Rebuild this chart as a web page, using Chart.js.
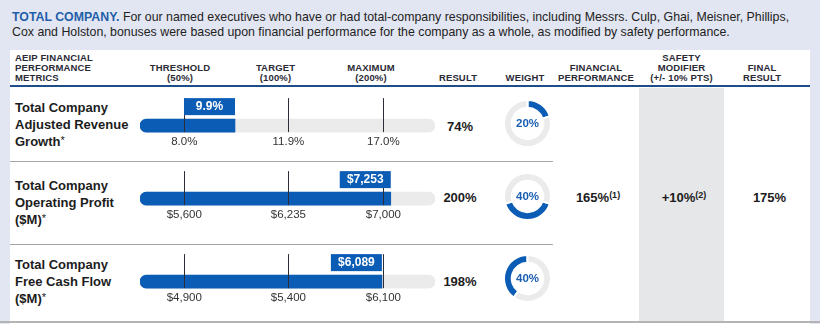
<!DOCTYPE html>
<html><head><meta charset="utf-8">
<script src="https://cdn.jsdelivr.net/npm/chart.js@4"></script>
<style>
html,body{margin:0;padding:0;}
body{width:820px;height:324px;background:#e2e6f2;position:relative;overflow:hidden;font-family:"Liberation Sans",Arial,sans-serif;color:#1e1e1e;}
.a{position:absolute;white-space:nowrap;}
.intro{left:12px;font-size:12.35px;line-height:15px;color:#222;}
.hd{font-size:9.5px;font-weight:bold;letter-spacing:0.15px;line-height:10px;color:#2a2a36;text-align:center;width:120px;}
.lbl{left:15px;font-size:13px;font-weight:bold;line-height:17px;color:#1c1c1c;}
.val{font-size:13px;font-weight:bold;color:#1c1c1c;text-align:center;width:80px;line-height:16px;}
sup{font-size:9px;vertical-align:top;position:relative;top:-3px;}
.star{font-size:11px;font-weight:normal;vertical-align:top;position:relative;top:-1px;}
</style></head>
<body>
<div class="a" style="left:10px;top:50px;width:800px;height:274px;background:#fff;"></div>
<div class="a" style="left:639px;top:88px;width:85px;height:234px;background:#e6e7e9;"></div>
<div class="a" style="left:10px;top:85px;width:800px;height:2px;background:#1d4e89;"></div>
<div class="a" style="left:10px;top:161px;width:543px;height:1px;background:#a6a6a6;"></div>
<div class="a" style="left:10px;top:244px;width:543px;height:1px;background:#a6a6a6;"></div>
<div class="a" style="left:0px;top:321px;width:820px;height:2px;background:#b4b4b4;"></div>

<div class="a intro" style="top:10px;"><b style="color:#1f5ea8;">TOTAL COMPANY.</b> For our named executives who have or had total-company responsibilities, including Messrs. Culp, Ghai, Meisner, Phillips,</div>
<div class="a intro" style="top:25px;">Cox and Holston, bonuses were based upon financial performance for the company as a whole, as modified by safety performance.</div>

<div class="a hd" style="left:15px;top:53px;text-align:left;">AEIP FINANCIAL<br>PERFORMANCE<br>METRICS</div>
<div class="a hd" style="left:120px;top:63px;">THRESHOLD<br>(50%)</div>
<div class="a hd" style="left:215.5px;top:63px;">TARGET<br>(100%)</div>
<div class="a hd" style="left:311px;top:63px;">MAXIMUM<br>(200%)</div>
<div class="a hd" style="left:398px;top:73px;">RESULT</div>
<div class="a hd" style="left:465px;top:73px;">WEIGHT</div>
<div class="a hd" style="left:536px;top:63px;">FINANCIAL<br>PERFORMANCE</div>
<div class="a hd" style="left:621.5px;top:53px;">SAFETY<br>MODIFIER<br>(+/- 10% PTS)</div>
<div class="a hd" style="left:702px;top:63px;">FINAL<br>RESULT</div>

<script>
// ---- data ----
const metricNames = [
  ['Total Company', 'Adjusted Revenue', 'Growth'],
  ['Total Company', 'Operating Profit', '($M)'],
  ['Total Company', 'Free Cash Flow', '($M)']
];
const thresholdValues = [8.0, 5600, 4900];
const targetValues = [11.9, 6235, 5400];
const maximumValues = [17.0, 7000, 6100];
const actualValues = [9.9, 7253, 6089];
const actualLabels = ['9.9%', '$7,253', '$6,089'];
const thresholdLabels = ['8.0%', '$5,600', '$4,900'];
const targetLabels = ['11.9%', '$6,235', '$5,400'];
const maximumLabels = ['17.0%', '$7,000', '$6,100'];
const resultPercents = [74, 200, 198];
const weightPercents = [20, 40, 40];
const financialPerformance = 165;
const safetyModifier = 10;
const finalResult = 175;

// ---- layout / style ----
const BLUE = '#0b5cb5';
const TRACK = '#ebebeb';
const MARK_POS = [15.0, 50.3, 82.5];   // threshold / target / maximum along a 0-100 track
const OVERSHOOT = 2.5;
const ROW_TRACK_TOP = [118, 191, 274];
const ROW_LABEL_TOP = [99, 176.5, 255.5];
const ROW_VALUE_Y = [126.5, 198, 281.5];
const DONUT_CENTER = [123.5, 196, 278.5];
const DONUT_ROTATION = [0, 108, 216];

function trackPos(v, a) {
  if (v <= a[0]) return MARK_POS[0] * v / a[0];
  if (v <= a[1]) return MARK_POS[0] + (v - a[0]) / (a[1] - a[0]) * (MARK_POS[1] - MARK_POS[0]);
  if (v <= a[2]) return MARK_POS[1] + (v - a[1]) / (a[2] - a[1]) * (MARK_POS[2] - MARK_POS[1]);
  return Math.min(MARK_POS[2] + (v - a[2]) / (a[2] - a[1]) * (MARK_POS[2] - MARK_POS[1]), MARK_POS[2] + OVERSHOOT);
}

function addDiv(cls, style, html) {
  const d = document.createElement('div');
  d.className = 'a ' + cls;
  d.setAttribute('style', style);
  d.innerHTML = html;
  document.body.appendChild(d);
  return d;
}

metricNames.forEach((lines, r) => {
  addDiv('lbl', `top:${ROW_LABEL_TOP[r]}px;`, lines[0] + '<br>' + lines[1] + '<br>' + lines[2] + '<span class="star">*</span>');
  addDiv('val', `left:${460 - 40}px;top:${ROW_VALUE_Y[r] - 8}px;`, resultPercents[r] + '%');

  // bar chart
  const cv = document.createElement('canvas');
  cv.width = 340; cv.height = 56;
  cv.setAttribute('style', `position:absolute;left:120px;top:${ROW_TRACK_TOP[r] - 24}px;`);
  document.body.appendChild(cv);
  const anchors = [thresholdValues[r], targetValues[r], maximumValues[r]];
  const tickLabels = [thresholdLabels[r], targetLabels[r], maximumLabels[r]];
  const markerPlugin = {
    id: 'markers' + r,
    afterDatasetsDraw(chart) {
      const {ctx, scales: {x}} = chart;
      const bar = chart.getDatasetMeta(0).data[0];
      const top = bar.y - bar.height / 2, bottom = bar.y + bar.height / 2;
      const boxTop = top - 21, boxBottom = top - 4;
      ctx.save();
      ctx.strokeStyle = '#2d2d3a'; ctx.lineWidth = 1;
      MARK_POS.forEach(p => {
        const px = Math.round(x.getPixelForValue(p)) + 0.5;
        ctx.beginPath(); ctx.moveTo(px, boxTop); ctx.lineTo(px, bottom); ctx.stroke();
      });
      const right = bar.x;
      ctx.fillStyle = BLUE;
      ctx.fillRect(right - 51, boxTop, 51, boxBottom - boxTop);
      ctx.fillStyle = '#fff';
      ctx.font = 'bold 12px "Liberation Sans", Arial, sans-serif';
      ctx.textAlign = 'center'; ctx.textBaseline = 'middle';
      ctx.fillText(actualLabels[r], right - 25.5, (boxTop + boxBottom) / 2 + 0.5);
      ctx.restore();
    }
  };
  new Chart(cv, {
    type: 'bar',
    data: {
      labels: [metricNames[r].join(' ')],
      datasets: [
        {data: [trackPos(actualValues[r], anchors)], backgroundColor: BLUE, barThickness: 13,
         borderSkipped: false, borderRadius: {topLeft: 7, bottomLeft: 7, topRight: 0, bottomRight: 0}, grouped: false},
        {data: [100], backgroundColor: TRACK, barThickness: 13, borderSkipped: false, borderRadius: 7, grouped: false}
      ]
    },
    options: {
      indexAxis: 'y', responsive: false, animation: false, events: [], devicePixelRatio: 1,
      layout: {padding: {left: 20, right: 25, top: 24, bottom: 1.5}},
      plugins: {legend: {display: false}, tooltip: {enabled: false}},
      scales: {
        y: {display: false},
        x: {
          min: 0, max: 100,
          grid: {display: false, drawTicks: false}, border: {display: false},
          afterBuildTicks: (s) => { s.ticks = MARK_POS.map(v => ({value: v})); },
          ticks: {padding: 2, autoSkip: false, maxRotation: 0, color: '#333',
                  font: {size: 11.5, family: '"Liberation Sans", Arial, sans-serif'},
                  callback: (v, i) => tickLabels[i]}
        }
      }
    },
    plugins: [markerPlugin]
  });

  // donut
  const dc = document.createElement('canvas');
  dc.width = 49; dc.height = 49;
  dc.setAttribute('style', `position:absolute;left:${527 - 24.5}px;top:${DONUT_CENTER[r] - 24.5}px;`);
  document.body.appendChild(dc);
  new Chart(dc, {
    type: 'doughnut',
    data: {labels: ['Weight', 'Other'], datasets: [{data: [weightPercents[r], 100 - weightPercents[r]],
      backgroundColor: [BLUE, TRACK], borderColor: '#fff', borderWidth: 2}]},
    options: {
      responsive: false, animation: false, events: [], devicePixelRatio: 1,
      rotation: DONUT_ROTATION[r], cutout: '67%',
      plugins: {legend: {display: false}, tooltip: {enabled: false}}
    },
    plugins: [{id: 'centerText' + r, afterDraw(chart) {
      const {ctx} = chart; const a = chart.getDatasetMeta(0).data[0];
      ctx.save(); ctx.fillStyle = '#1a5fb4';
      ctx.font = 'bold 11.5px "Liberation Sans", Arial, sans-serif';
      ctx.textAlign = 'center'; ctx.textBaseline = 'middle';
      ctx.fillText(weightPercents[r] + '%', a.x, a.y + 0.5); ctx.restore();
    }}]
  });
});

addDiv('val', `left:${598 - 40}px;top:${198 - 8}px;`, financialPerformance + '%<sup>(1)</sup>');
addDiv('val', `left:${684 - 40}px;top:${198 - 8}px;`, '+' + safetyModifier + '%<sup>(2)</sup>');
addDiv('val', `left:${769.5 - 40}px;top:${198 - 8}px;`, finalResult + '%');
</script>
</body></html>
